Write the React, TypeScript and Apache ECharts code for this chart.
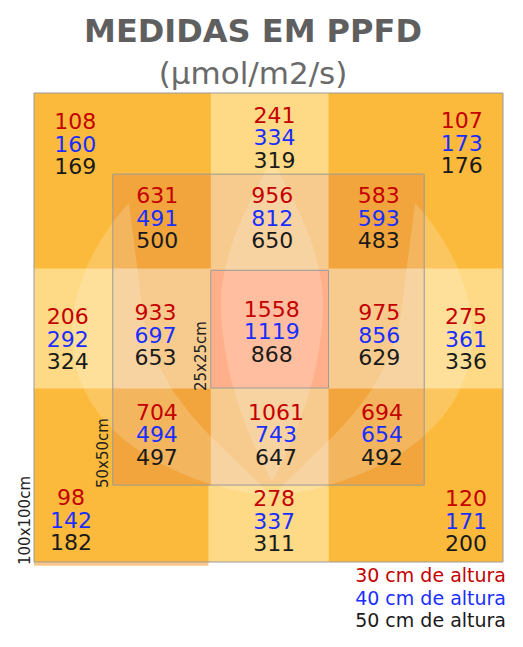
import React, { useEffect, useRef } from "react";
import * as echarts from "echarts";

// Measuring heights (legend) and their colours
const heights = ["30 cm de altura", "40 cm de altura", "50 cm de altura"];
const heightColors = ["#C40000", "#1A2FFF", "#1A1A1A"];

// Measuring points on the 100 x 100 cm area (cm from left / top)
const pointX = [8.8, 51.3, 91.2, 26.3, 50.8, 73.5, 7.2, 25.9, 50.7, 73.6, 92.1, 26.2, 51.6, 74.2, 7.9, 51.2, 92.1];
const pointY = [10.9, 9.5, 10.7, 26.7, 26.7, 26.7, 52.5, 51.6, 50.9, 51.6, 52.5, 72.9, 72.9, 72.9, 91.1, 91.3, 91.3];

// PPFD values (µmol/m2/s) at each point, per height
const ppfd30 = [108, 241, 107, 631, 956, 583, 206, 933, 1558, 975, 275, 704, 1061, 694, 98, 278, 120];
const ppfd40 = [160, 334, 173, 491, 812, 593, 292, 697, 1119, 856, 361, 494, 743, 654, 142, 337, 171];
const ppfd50 = [169, 319, 176, 500, 650, 483, 324, 653, 868, 629, 336, 497, 647, 492, 182, 311, 200];

// Coloured zones: [x0, y0, x1, y1, colourIndex] in cm
const zones = [
  [0, 0, 100, 100, 0],
  [0, 100, 37.2, 100.8, 5],
  [37.7, 0, 62.8, 100, 1],
  [37.2, 83.6, 62.8, 100, 1],
  [0, 37.4, 100, 63.0, 1],
  [16.8, 17.3, 83.2, 83.6, 2],
  [37.7, 17.3, 62.8, 83.6, 3],
  [16.8, 37.4, 83.2, 63.0, 3],
  [37.7, 37.8, 62.8, 62.9, 4],
];
const zoneColors = ["#FBBA3C", "#FEDA86", "#F2A53C", "#F7CA8E", "#FFB08A", "#FBC889"];

// Frames: [x0, y0, x1, y1, labelIndex]
const frames = [
  [0, 0, 100, 100, 0],
  [16.8, 17.3, 83.2, 83.6, 1],
  [37.7, 37.8, 62.8, 62.9, 2],
];
const frameLabels = ["100x100cm", "50x50cm", "25x25cm"];

const FONT = "DejaVu Sans";

echarts.graphic.registerShape(
  "flameCenter",
  echarts.graphic.extendPath(
    "M272,158 C290,195 325,250 323,310 C321,370 300,430 272,482 C244,430 223,370 221,310 C219,250 254,195 272,158 Z",
    {}
  )
);
echarts.graphic.registerShape(
  "petalLeft",
  echarts.graphic.extendPath(
    "M129,203 C95,240 70,290 72,340 C75,420 150,480 272,497 C220,440 152,400 141,300 C137,260 132,230 129,203 Z",
    {}
  )
);
echarts.graphic.registerShape(
  "petalRight",
  echarts.graphic.extendPath(
    "M415,203 C449,240 474,290 472,340 C469,420 394,480 272,497 C324,440 392,400 403,300 C407,260 412,230 415,203 Z",
    {}
  )
);

function pointsFor(values: number[]) {
  return values.map((v, i) => [pointX[i], pointY[i], v]);
}

export default function App() {
  const ref = useRef<HTMLDivElement>(null);

  useEffect(() => {
    if (!ref.current) return;
    const chart = echarts.init(ref.current, undefined, { renderer: "svg" });
    const seriesValues = [ppfd30, ppfd40, ppfd50];
    const offsets = [-22.5, 0, 22.5];

    const option: any = {
      animation: false,
      textStyle: { fontFamily: FONT },
      title: [
        {
          text: "MEDIDAS EM PPFD",
          left: 253,
          textAlign: "center",
          top: 15,
          padding: 0,
          textStyle: { fontFamily: FONT, fontWeight: "bold", fontSize: 32, color: "#5F5F5F", lineHeight: 32 },
        },
        {
          text: "(µmol/m2/s)",
          left: 253,
          textAlign: "center",
          top: 57.5,
          padding: 0,
          textStyle: { fontFamily: FONT, fontWeight: "normal", fontSize: 31, color: "#6A6A6A", lineHeight: 31 },
        },
      ],
      legend: {
        orient: "vertical",
        right: 17,
        top: 565,
        padding: 0,
        itemGap: 2.5,
        itemWidth: 0,
        itemHeight: 0,
        icon: "circle",
        selectedMode: false,
        data: heights.map((h, i) => ({
          name: h,
          textStyle: { color: heightColors[i], fontSize: 19, fontFamily: FONT, lineHeight: 20 },
        })),
      },
      grid: { left: 34, top: 93, width: 469, height: 469 },
      xAxis: { type: "value", min: 0, max: 100, show: false },
      yAxis: { type: "value", min: 0, max: 100, inverse: true, show: false },
      graphic: [
        { type: "flameCenter", x: 0, y: 0, z: 2, silent: true, style: { fill: "rgba(255,255,255,0.18)" } },
        { type: "petalLeft", x: 0, y: 0, z: 2, silent: true, style: { fill: "rgba(255,255,255,0.18)" } },
        { type: "petalRight", x: 0, y: 0, z: 2, silent: true, style: { fill: "rgba(255,255,255,0.18)" } },
      ],
      series: [
        {
          type: "custom",
          z: 1,
          silent: true,
          clip: false,
          data: zones,
          renderItem: (params: any, api: any) => {
            const p0 = api.coord([api.value(0), api.value(1)]);
            const p1 = api.coord([api.value(2), api.value(3)]);
            return {
              type: "rect",
              shape: { x: p0[0], y: p0[1], width: p1[0] - p0[0], height: p1[1] - p0[1] },
              style: { fill: zoneColors[api.value(4)] },
            };
          },
        },
        {
          type: "custom",
          z: 3,
          silent: true,
          data: frames,
          renderItem: (params: any, api: any) => {
            const p0 = api.coord([api.value(0), api.value(1)]);
            const p1 = api.coord([api.value(2), api.value(3)]);
            return {
              type: "group",
              children: [
                {
                  type: "rect",
                  shape: { x: p0[0], y: p0[1], width: p1[0] - p0[0], height: p1[1] - p0[1] },
                  style: { fill: "none", stroke: "#9A9A9A", lineWidth: 1 },
                },
                {
                  type: "text",
                  x: p0[0] - 9.5,
                  y: p1[1] + 3,
                  rotation: Math.PI / 2,
                  style: {
                    text: frameLabels[api.value(4)],
                    fontFamily: FONT,
                    fontSize: 15,
                    fill: "#222222",
                    align: "left",
                    verticalAlign: "middle",
                  },
                },
              ],
            };
          },
        },
        ...heights.map((h, si) => ({
          type: "scatter",
          name: h,
          z: 5,
          silent: true,
          symbolSize: 0,
          itemStyle: { color: heightColors[si], opacity: 1 },
          data: pointsFor(seriesValues[si]),
          label: {
            show: true,
            position: "inside",
            offset: [0, offsets[si]],
            formatter: (p: any) => String(p.value[2]),
            color: heightColors[si],
            opacity: 1,
            fontFamily: FONT,
            fontSize: 22,
            lineHeight: 20,
          },
        })),
      ],
    };
    chart.setOption(option);
    return () => chart.dispose();
  }, []);

  return (
    <div
      ref={ref}
      style={{ position: "absolute", left: 0, top: 0, width: 523, height: 647, background: "#ffffff" }}
    />
  );
}
